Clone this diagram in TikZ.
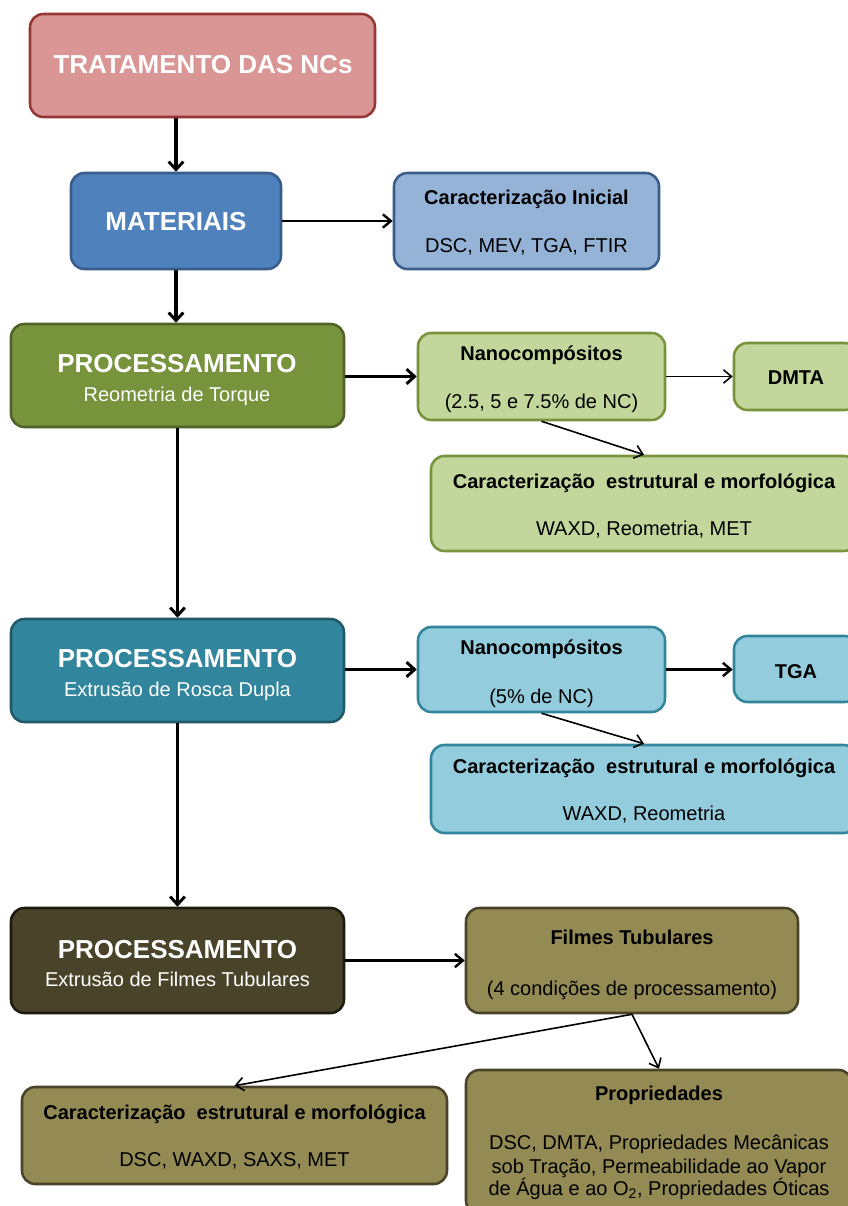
\documentclass[tikz,border=0pt]{standalone}
\usepackage{fontspec}
\setmainfont{Liberation Sans}
\usetikzlibrary{arrows.meta}
\definecolor{tratF}{HTML}{D99694}
\definecolor{tratD}{HTML}{953735}
\definecolor{matF}{HTML}{4F81BD}
\definecolor{matD}{HTML}{385D8A}
\definecolor{ciF}{HTML}{95B3D7}
\definecolor{pgF}{HTML}{77933C}
\definecolor{pgD}{HTML}{4F6228}
\definecolor{lgF}{HTML}{C3D69B}
\definecolor{ptF}{HTML}{31859C}
\definecolor{ptD}{HTML}{215968}
\definecolor{lbF}{HTML}{93CDDD}
\definecolor{pdF}{HTML}{494429}
\definecolor{pdD}{HTML}{1D1B10}
\definecolor{olF}{HTML}{948A54}
\tikzset{
  box/.style={draw, rounded corners=10pt, line width=1.9pt, inner sep=0pt},
  bigtxt/.style={font=\fontsize{19.5}{23}\selectfont\bfseries, text=white, anchor=base, inner sep=0pt},
  subtxt/.style={font=\fontsize{15}{18}\selectfont, text=white, anchor=base, inner sep=0pt},
  smalltxt/.style={font=\fontsize{15}{18}\selectfont, anchor=base, inner sep=0pt},
  smallbold/.style={font=\fontsize{15}{18}\selectfont\bfseries, anchor=base, inner sep=0pt},
  thickarrow/.style={line width=2.8pt, -{Straight Barb[length=6pt,width=11pt,line width=2.2pt]}},
  midarrow/.style={line width=2pt, -{Straight Barb[length=6pt,width=10pt,line width=1.8pt]}},
  thinarrow/.style={line width=1.2pt, -{Straight Barb[length=6pt,width=10pt,line width=1.2pt]}}
}
\begin{document}
\begin{tikzpicture}[x=0.75pt,y=-0.75pt]
\useasboundingbox (0,0) rectangle (848,1206);
\clip (0,0) rectangle (848,1206);
\fill[white] (0,0) rectangle (848,1206);

% boxes
\node[box, fill=tratF, draw=tratD, minimum width=258.75pt, minimum height=77.25pt] (trat) at (202.5,65.5) {};
\node[box, fill=matF, draw=matD, minimum width=157.5pt, minimum height=72pt] (mat) at (176,221) {};
\node[box, fill=ciF, draw=matD, minimum width=198.75pt, minimum height=72pt] (ci) at (526.5,221) {};
\node[box, fill=pgF, draw=pgD, minimum width=249.75pt, minimum height=77.25pt] (p1) at (177.5,375.5) {};
\node[box, fill=lgF, draw=pgF, minimum width=185.25pt, minimum height=65.25pt] (n1) at (541.5,376.5) {};
\node[box, fill=lgF, draw=pgF, minimum width=93pt, minimum height=50.25pt] (dmta) at (796,376.5) {};
\node[box, fill=lgF, draw=pgF, minimum width=319.5pt, minimum height=71.25pt] (c1) at (644,503.5) {};
\node[box, fill=ptF, draw=ptD, minimum width=249.75pt, minimum height=77.25pt] (p2) at (177.5,670.5) {};
\node[box, fill=lbF, draw=ptF, minimum width=185.25pt, minimum height=63.75pt] (n2) at (541.5,669.5) {};
\node[box, fill=lbF, draw=ptF, minimum width=93pt, minimum height=49.5pt] (tga) at (796,669) {};
\node[box, fill=lbF, draw=ptF, minimum width=319.5pt, minimum height=66pt] (c2) at (644,789) {};
\node[box, fill=pdF, draw=pdD, minimum width=249.75pt, minimum height=78.75pt] (p3) at (177.5,960.5) {};
\node[box, fill=olF, draw=pdF, minimum width=249pt, minimum height=78.75pt] (ft) at (632,960.5) {};
\node[box, fill=olF, draw=pdF, minimum width=318.75pt, minimum height=72.75pt] (c3) at (234.5,1135.5) {};
\node[box, fill=olF, draw=pdF, minimum width=289.5pt, minimum height=108pt] (pr) at (659,1142) {};

% texts
\node[bigtxt] (tratT) at (203,74) {TRATAMENTO DAS NCs};
\node[bigtxt] (matT) at (176,230) {MATERIAIS};
\node[smallbold] (ciT) at (526.5,204) {Caracterização Inicial};
\node[smalltxt] (ciB) at (526.5,252) {DSC, MEV, TGA, FTIR};

\node[bigtxt] (p1T) at (177,372) {PROCESSAMENTO};
\node[subtxt] (p1S) at (177,401) {Reometria de Torque};
\node[smallbold] (n1T) at (541.5,360) {Nanocompósitos};
\node[smalltxt] (n1B) at (541.5,408) {(2.5, 5 e 7.5\% de NC)};
\node[smallbold] (dmtaT) at (796,384) {DMTA};
\node[smallbold] (c1T) at (644,488) {Caracterização\ \ estrutural e morfológica};
\node[smalltxt] (c1B) at (644,535) {WAXD, Reometria, MET};

\node[bigtxt] (p2T) at (177.5,667) {PROCESSAMENTO};
\node[subtxt] (p2S) at (177.5,696) {Extrusão de Rosca Dupla};
\node[smallbold] (n2T) at (541.5,654) {Nanocompósitos};
\node[smalltxt] (n2B) at (541.5,703) {(5\% de NC)};
\node[smallbold] (tgaT) at (796,678) {TGA};
\node[smallbold] (c2T) at (644,773) {Caracterização\ \ estrutural e morfológica};
\node[smalltxt] (c2B) at (644,820) {WAXD, Reometria};

\node[bigtxt] (p3T) at (177.5,958) {PROCESSAMENTO};
\node[subtxt] (p3S) at (177.5,986) {Extrusão de Filmes Tubulares};
\node[smallbold] (ftT) at (632,944) {Filmes Tubulares};
\node[smalltxt] (ftB) at (632,995) {(4 condições de processamento)};
\node[smallbold] (c3T) at (234.5,1119) {Caracterização\ \ estrutural e morfológica};
\node[smalltxt] (c3B) at (234.5,1166) {DSC, WAXD, SAXS, MET};
\node[smallbold] (prT) at (659,1100) {Propriedades};
\node[smalltxt] (prL1) at (659,1149) {DSC, DMTA, Propriedades Mecânicas};
\node[smalltxt] (prL2) at (659,1173) {sob Tração, Permeabilidade ao Vapor};
\node[smalltxt] (prL3) at (659,1195) {de Água e ao O\textsubscript{2}, Propriedades Óticas};

% connectors
\draw[thickarrow] (mat.north |- trat.south) -- (mat.north);
\draw[midarrow] (mat.east) -- (ci.west);
\draw[thickarrow] (mat.south) -- (mat.south |- p1.north);
\draw[thickarrow] (p1.east |- n1.west) -- (n1.west);
\draw[thinarrow] (n1.east) -- (dmta.west);
\draw[thinarrow] (n1.south) -- (c1.north);
\draw[thickarrow] (p1.south) -- (p2.north);
\draw[thickarrow] (p2.east |- n2.west) -- (n2.west);
\draw[midarrow] (n2.east) -- (n2.east -| tga.west);
\draw[thinarrow] (n2.south) -- (c2.north);
\draw[thickarrow] (p2.south) -- (p3.north);
\draw[midarrow] (p3.east) -- (ft.west);
\draw[thinarrow] (ft.south) -- (c3.north);
\draw[thinarrow] (ft.south) -- (pr.north);
\end{tikzpicture}
\end{document}
